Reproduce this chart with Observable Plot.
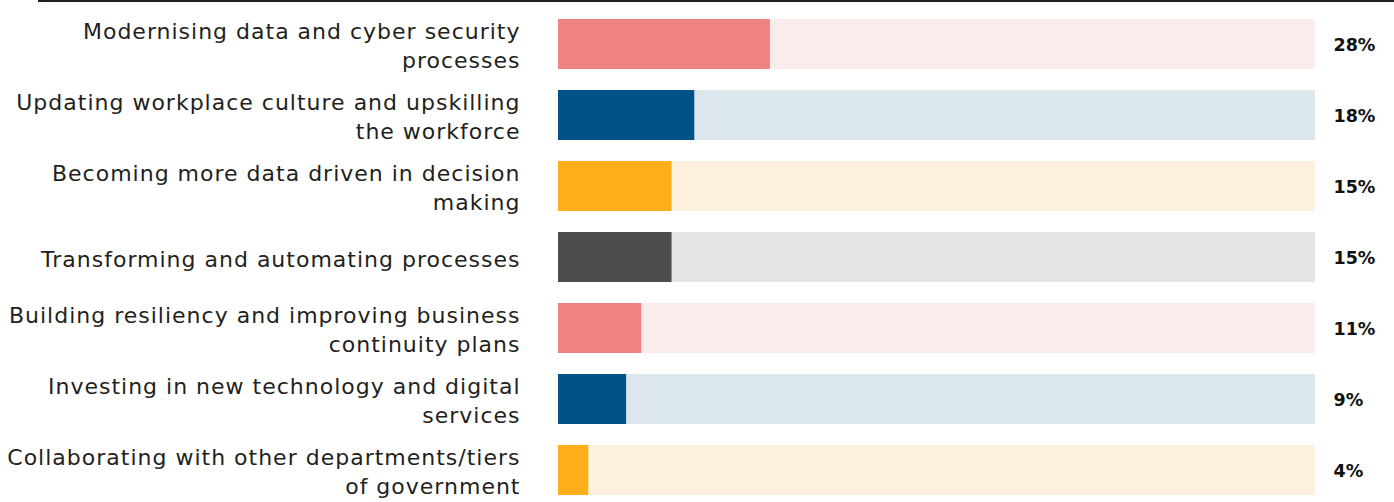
<!DOCTYPE html>
<html>
<head>
<meta charset="utf-8">
<script src="https://cdn.jsdelivr.net/npm/d3@7"></script>
<script src="https://cdn.jsdelivr.net/npm/@observablehq/plot@0.6"></script>
<style>
  html, body { margin: 0; padding: 0; background: #fff; }
  #rule { margin-left: 38px; border-top: 2px solid #231f20; }
  #chart svg { display: block; }
</style>
</head>
<body>
<div id="rule"></div>
<div id="chart"></div>
<script>
const categories = [
  "Modernising data and cyber security\nprocesses",
  "Updating workplace culture and upskilling\nthe workforce",
  "Becoming more data driven in decision\nmaking",
  "Transforming and automating processes",
  "Building resiliency and improving business\ncontinuity plans",
  "Investing in new technology and digital\nservices",
  "Collaborating with other departments/tiers\nof government"
];
const values = [28, 18, 15, 15, 11, 9, 4];
const valueLabels = ["28%", "18%", "15%", "15%", "11%", "9%", "4%"];
const barColors = ["#ef8283", "#005288", "#fdae1a", "#4d4d4f", "#ef8283", "#005288", "#fdae1a"];
const trackColors = ["#faeceb", "#dce6ed", "#fef0df", "#e5e5e5", "#faeceb", "#dce6ed", "#fef0df"];
const total = 100;

const data = categories.map((c, i) => ({
  cat: c, value: values[i], label: valueLabels[i],
  color: barColors[i], track: trackColors[i], total
}));

const chart = Plot.plot({
  width: 1394,
  height: 500,
  marginLeft: 558,
  marginRight: 79,
  marginTop: 16,
  marginBottom: 6,
  x: { domain: [0, 100], axis: null },
  y: { domain: categories, axis: null, paddingInner: 0.3, paddingOuter: 0 },
  style: { fontFamily: "'DejaVu Sans', sans-serif", background: "#fff" },
  marks: [
    Plot.barX(data, { x: "total", y: "cat", fill: d => d.track }),
    Plot.barX(data, { x: "value", y: "cat", fill: d => d.color }),
    Plot.text(data, {
      x: 0, y: "cat", text: "cat", textAnchor: "end", dx: -38,
      fontSize: 22, fill: "#231f20", lineHeight: 1.32
    }),
    Plot.text(data, {
      x: "total", y: "cat", text: "label", textAnchor: "start", dx: 18, dy: 1,
      fontSize: 17.5, fontWeight: "bold", fill: "#111"
    })
  ]
});
const textGroups = chart.querySelectorAll('g[aria-label="text"]');
if (textGroups.length) textGroups[0].style.letterSpacing = "1px";
document.getElementById("chart").appendChild(chart);
</script>
</body>
</html>
